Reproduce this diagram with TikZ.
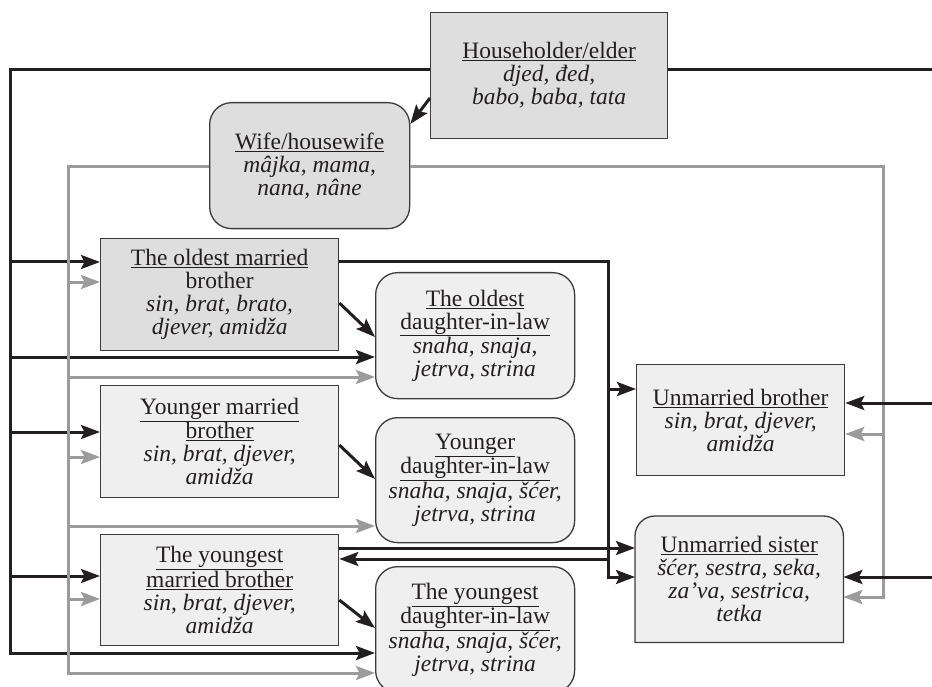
\documentclass[tikz,border=0pt]{standalone}
\usepackage{fontspec}
\setmainfont{Liberation Serif}
\usetikzlibrary{arrows.meta,backgrounds}
\definecolor{ink}{HTML}{231F20}
\definecolor{gline}{HTML}{9B9B9B}
\definecolor{fdark}{HTML}{DEDEDE}
\definecolor{flight}{HTML}{EFEFEF}
\definecolor{edge}{HTML}{3C3C3C}
\newcommand\ttl[1]{\underline{#1}}
\begin{document}
\begin{tikzpicture}[x=1pt,y=-1pt,
  every node/.style={font=\fontsize{23.5}{23}\selectfont, align=center, inner sep=0pt, text=ink},
  box/.style={draw=edge, line width=1.3pt, anchor=north west},
  rbox/.style={box, rounded corners=22pt},
  bk/.style={draw=ink, line width=3pt},
  gr/.style={draw=gline, line width=3pt},
  tip/.style={-{Stealth[length=19pt,width=14pt,inset=3.5pt]}},
]
\useasboundingbox (0,0) rectangle (932,687);

% boxes
\node[box, fill=fdark, minimum width=237pt, minimum height=126pt] (hh) at (430,12)
  {\ttl{Householder/elder}\\ \textit{djed, đed,}\\ \textit{babo, baba, tata}};
\node[rbox, fill=fdark, minimum width=200pt, minimum height=126pt] (wife) at (209,102)
  {\ttl{Wife/housewife}\\ \textit{mâjka, mama,}\\ \textit{nana, nâne}};
\node[box, fill=fdark, minimum width=238pt, minimum height=112pt] (omb) at (100,238)
  {\ttl{The oldest married}\\ brother\\ \textit{sin, brat, brato,}\\ \textit{djever, amidža}};
\node[rbox, fill=flight, minimum width=199pt, minimum height=126pt] (odil) at (375,272)
  {\ttl{The oldest}\\ \ttl{daughter-in-law}\\ \textit{snaha, snaja,}\\ \textit{jetrva, strina}};
\node[box, fill=flight, minimum width=238pt, minimum height=112pt] (ymb) at (100,385)
  {\ttl{Younger married}\\ \ttl{brother}\\ \textit{sin, brat, djever,}\\ \textit{amidža}};
\node[rbox, fill=flight, minimum width=199pt, minimum height=125pt] (ydil) at (375,417)
  {\ttl{Younger}\\ \ttl{daughter-in-law}\\ \textit{snaha, snaja, šćer,}\\ \textit{jetrva, strina}};
\node[box, fill=flight, minimum width=238pt, minimum height=111pt] (ytmb) at (100,534)
  {\ttl{The youngest}\\ \ttl{married brother}\\ \textit{sin, brat, djever,}\\ \textit{amidža}};
\node[rbox, fill=flight, minimum width=199pt, minimum height=126pt] (ytdil) at (375,566)
  {\ttl{The youngest}\\ \ttl{daughter-in-law}\\ \textit{snaha, snaja, šćer,}\\ \textit{jetrva, strina}};
\node[box, fill=flight, minimum width=208pt, minimum height=111pt] (ub) at (636,364)
  {\ttl{Unmarried brother}\\ \textit{sin, brat, djever,}\\ \textit{amidža}};
\node[anchor=north west, minimum width=208pt, minimum height=126pt] (us) at (635,516)
  {\ttl{Unmarried sister}\\ \textit{šćer, sestra, seka,}\\ \textit{za’va, sestrica,}\\ \textit{tetka}};
\begin{scope}[on background layer]
  \draw[draw=edge, line width=1.3pt, fill=flight]
    (us.west) [rounded corners=20pt] -- (us.north west) -- (us.north east) -- (us.east)
    [sharp corners] -- (us.south east) -- (us.south west) -- cycle;
\end{scope}

% householder to wife
\draw[bk,tip] (hh.west |- 0,98) -- (wife.east |- 0,124);

% black bus on the left
\draw[bk,tip] (hh.west |- 0,70) -- (10,70) -- (10,653) -- (ytdil.west |- 0,653);
\draw[bk] (hh.east |- 0,70) -- (932,70);
\draw[bk,tip] (10,262) -- (omb.west |- 0,262);
\draw[bk,tip] (10,357) -- (odil.west |- 0,357);
\draw[bk,tip] (10,432) -- (ymb.west |- 0,432);
\draw[bk,tip] (10,576) -- (ytmb.west |- 0,576);

% grey bus
\draw[gr,tip] (wife.west |- 0,167) -- (68,167) -- (68,673) -- (ytdil.west |- 0,673);
\draw[gr,tip] (68,282) -- (omb.west |- 0,282);
\draw[gr,tip] (68,377) -- (odil.west |- 0,377);
\draw[gr,tip] (68,457) -- (ymb.west |- 0,457);
\draw[gr,tip] (68,526) -- (ydil.west |- 0,526);
\draw[gr,tip] (68,599) -- (ytmb.west |- 0,599);
\draw[gr,tip] (wife.east |- 0,167) -- (883,167) -- (883,597) -- (us.east |- 0,597);
\draw[gr,tip] (883,434) -- (ub.east |- 0,434);

% from the right
\draw[bk,tip] (932,403) -- (ub.east |- 0,403);
\draw[bk,tip] (932,577) -- (us.east |- 0,577);

% oldest married brother to the unmarried
\draw[bk,tip] (omb.east |- 0,262) -- (608,262) -- (608,577) -- (us.west |- 0,577);
\draw[bk,tip] (608,389) -- (ub.west |- 0,389);
\draw[bk,tip] (608,559) -- (ytmb.east |- 0,559);
\draw[bk,tip] (ytmb.east |- 0,548) -- (us.west |- 0,548);

% brothers to their wives
\draw[bk,tip] (omb.east |- 0,303) -- (odil.west |- 0,337);
\draw[bk,tip] (ymb.east |- 0,445) -- (ydil.west |- 0,479);
\draw[bk,tip] (ytmb.east |- 0,600) -- (ytdil.west |- 0,628);
\end{tikzpicture}
\end{document}
